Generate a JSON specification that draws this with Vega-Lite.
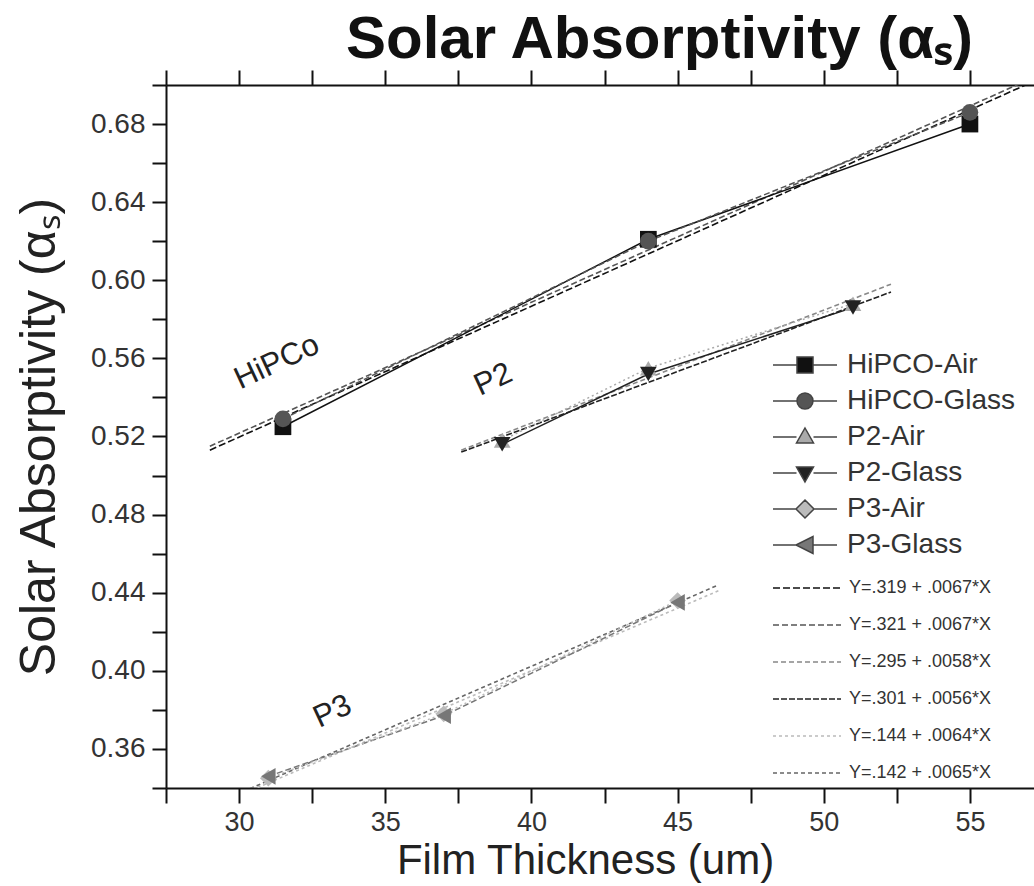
{
  "$schema": "https://vega.github.io/schema/vega-lite/v6.json",
  "width": 877,
  "height": 703,
  "autosize": {"type": "none"},
  "padding": {"left": 166, "top": 85, "right": -9, "bottom": 98},
  "background": "white",
  "title": {"text": "Solar Absorptivity (αₛ)", "fontSize": 60, "fontWeight": "bold", "font": "Liberation Sans", "color": "#111", "anchor": "middle", "dx": 55, "offset": -2},
  "config": {"view": {"stroke": null}, "axis": {"grid": false}, "font": "Liberation Sans"},
  "datasets": {
    "pts": [
      {"series": "HiPCO-Air", "x": 31.5, "y": 0.525},
      {"series": "HiPCO-Air", "x": 44, "y": 0.621},
      {"series": "HiPCO-Air", "x": 55, "y": 0.680},
      {"series": "HiPCO-Glass", "x": 31.5, "y": 0.529},
      {"series": "HiPCO-Glass", "x": 44, "y": 0.620},
      {"series": "HiPCO-Glass", "x": 55, "y": 0.686},
      {"series": "P2-Air", "x": 39, "y": 0.518},
      {"series": "P2-Air", "x": 44, "y": 0.555},
      {"series": "P2-Air", "x": 51, "y": 0.588},
      {"series": "P2-Glass", "x": 39, "y": 0.516},
      {"series": "P2-Glass", "x": 44, "y": 0.552},
      {"series": "P2-Glass", "x": 51, "y": 0.586},
      {"series": "P3-Air", "x": 31, "y": 0.345},
      {"series": "P3-Air", "x": 37, "y": 0.378},
      {"series": "P3-Air", "x": 45, "y": 0.436},
      {"series": "P3-Glass", "x": 31, "y": 0.346},
      {"series": "P3-Glass", "x": 37, "y": 0.377},
      {"series": "P3-Glass", "x": 45, "y": 0.435}
    ],
    "fits": [
      {"fit": "Y=.319 + .0067*X", "x": 29.0, "y": 0.513},
      {"fit": "Y=.319 + .0067*X", "x": 57.5, "y": 0.704},
      {"fit": "Y=.321 + .0067*X", "x": 29.0, "y": 0.515},
      {"fit": "Y=.321 + .0067*X", "x": 57.5, "y": 0.706},
      {"fit": "Y=.295 + .0058*X", "x": 37.6, "y": 0.513},
      {"fit": "Y=.295 + .0058*X", "x": 52.3, "y": 0.598},
      {"fit": "Y=.301 + .0056*X", "x": 37.6, "y": 0.512},
      {"fit": "Y=.301 + .0056*X", "x": 52.3, "y": 0.594},
      {"fit": "Y=.144 + .0064*X", "x": 29.5, "y": 0.333},
      {"fit": "Y=.144 + .0064*X", "x": 46.4, "y": 0.441},
      {"fit": "Y=.142 + .0065*X", "x": 29.5, "y": 0.334},
      {"fit": "Y=.142 + .0065*X", "x": 46.4, "y": 0.444}
    ],
    "labels": [
      {"label": "HiPCo", "x": 31.3, "y": 0.558},
      {"label": "P2", "x": 38.7, "y": 0.549},
      {"label": "P3", "x": 33.2, "y": 0.379}
    ]
  },
  "layer": [
    {
      "data": {"name": "fits"},
      "mark": {"type": "line", "clip": true, "strokeWidth": 1.6},
      "encoding": {
        "x": {"field": "x", "type": "quantitative", "scale": {"domain": [27.5, 57.5], "nice": false, "zero": false},
          "axis": {"orient": "bottom", "values": [27.5, 30, 32.5, 35, 37.5, 40, 42.5, 45, 47.5, 50, 52.5, 55, 57.5], "format": ".1f",
            "labelExpr": "datum.value % 5 === 0 ? format(datum.value, 'd') : ''",
            "tickSize": 15, "tickWidth": 2, "tickColor": "#111", "domainColor": "#111", "domainWidth": 2,
            "labelFontSize": 27, "labelColor": "#333", "labelPadding": 6, "labelOverlap": false, "labelFlush": false,
            "title": "Film Thickness (um)", "titleFontSize": 42, "titleFont": "Liberation Sans", "titleFontWeight": "normal", "titleColor": "#222", "titlePadding": 5, "titleX": 419,
            "encode": {"ticks": {"y2": {"value": {"expr": "datum.value % 5 === 0 ? 15 : 8"}}}}}},
        "y": {"field": "y", "type": "quantitative", "scale": {"domain": [0.34, 0.70], "nice": false, "zero": false},
          "axis": {"orient": "left", "values": [0.34, 0.36, 0.38, 0.40, 0.42, 0.44, 0.46, 0.48, 0.50, 0.52, 0.54, 0.56, 0.58, 0.60, 0.62, 0.64, 0.66, 0.68, 0.70],
            "labelExpr": "round(datum.value*100) % 4 === 0 ? format(datum.value, '.2f') : ''",
            "tickSize": 14, "tickWidth": 2, "tickColor": "#111", "domainColor": "#111", "domainWidth": 2,
            "labelFontSize": 28, "labelColor": "#333", "labelPadding": 7, "labelOverlap": false, "labelFlush": false,
            "title": "Solar Absorptivity (αₛ)", "titleFontSize": 50, "titleFont": "Liberation Sans", "titleFontWeight": "normal", "titleColor": "#222", "titlePadding": 26,
            "encode": {"ticks": {"x2": {"value": {"expr": "round(datum.value*100) % 4 === 0 ? -14 : -7"}}}}}},
        "stroke": {"field": "fit", "type": "nominal",
          "scale": {"domain": ["Y=.319 + .0067*X", "Y=.321 + .0067*X", "Y=.295 + .0058*X", "Y=.301 + .0056*X", "Y=.144 + .0064*X", "Y=.142 + .0065*X"],
            "range": ["#111111", "#555555", "#888888", "#222222", "#bbbbbb", "#666666"]},
          "legend": {"orient": "none", "legendX": 630, "legendY": 492, "title": null, "labelFontSize": 18, "labelColor": "#333", "labelLimit": 300, "symbolType": "M-3.4,0H3.4", "symbolSize": 400, "symbolStrokeWidth": 1.6, "labelOffset": 31, "rowPadding": 17, "padding": 0}},
        "strokeDash": {"field": "fit", "type": "nominal",
          "scale": {"domain": ["Y=.319 + .0067*X", "Y=.321 + .0067*X", "Y=.295 + .0058*X", "Y=.301 + .0056*X", "Y=.144 + .0064*X", "Y=.142 + .0065*X"],
            "range": [[7, 3], [6, 3], [5, 3], [6, 2], [3, 3], [4, 3]]},
          "legend": {"orient": "none", "legendX": 630, "legendY": 492, "title": null, "labelFontSize": 18, "labelColor": "#333", "labelLimit": 300, "symbolType": "M-3.4,0H3.4", "symbolSize": 400, "symbolStrokeWidth": 1.6, "labelOffset": 31, "rowPadding": 17, "padding": 0}}
      }
    },
    {
      "data": {"name": "pts"},
      "transform": [{"filter": {"field": "series", "oneOf": ["HiPCO-Air", "P2-Glass"]}}],
      "mark": {"type": "line", "strokeWidth": 1.5},
      "encoding": {
        "x": {"field": "x", "type": "quantitative",
          "axis": {"orient": "top", "values": [27.5, 30, 32.5, 35, 37.5, 40, 42.5, 45, 47.5, 50, 52.5, 55, 57.5], "labels": false, "title": null,
            "tickSize": 15, "tickWidth": 2, "tickColor": "#111", "domainColor": "#111", "domainWidth": 2,
            "encode": {"ticks": {"y2": {"value": {"expr": "datum.value % 5 === 0 ? 16 : 6"}}}}}},
        "y": {"field": "y", "type": "quantitative",
          "axis": {"orient": "right", "values": [0.34, 0.36, 0.38, 0.40, 0.42, 0.44, 0.46, 0.48, 0.50, 0.52, 0.54, 0.56, 0.58, 0.60, 0.62, 0.64, 0.66, 0.68, 0.70], "labels": false, "title": null,
            "tickSize": 14, "tickWidth": 2, "tickColor": "#111", "domainColor": "#111", "domainWidth": 2,
            "encode": {"ticks": {"x2": {"value": {"expr": "round(datum.value*100) % 4 === 0 ? -14 : -7"}}}}}},
        "color": {"field": "series", "type": "nominal",
          "scale": {"domain": ["HiPCO-Air", "HiPCO-Glass", "P2-Air", "P2-Glass", "P3-Air", "P3-Glass"], "range": ["#111111", "#555555", "#aaaaaa", "#222222", "#bbbbbb", "#777777"]},
          "legend": null}
      }
    },
    {
      "data": {"name": "pts"},
      "transform": [{"filter": {"field": "series", "oneOf": ["HiPCO-Glass", "P3-Glass"]}}],
      "mark": {"type": "line", "strokeWidth": 1.5, "strokeDash": [6, 3]},
      "encoding": {
        "x": {"field": "x", "type": "quantitative", "axis": null},
        "y": {"field": "y", "type": "quantitative", "axis": null},
        "color": {"field": "series", "type": "nominal",
          "scale": {"domain": ["HiPCO-Air", "HiPCO-Glass", "P2-Air", "P2-Glass", "P3-Air", "P3-Glass"], "range": ["#111111", "#555555", "#aaaaaa", "#222222", "#bbbbbb", "#777777"]},
          "legend": null}
      }
    },
    {
      "data": {"name": "pts"},
      "transform": [{"filter": {"field": "series", "oneOf": ["P2-Air", "P3-Air"]}}],
      "mark": {"type": "line", "strokeWidth": 1.5, "strokeDash": [2, 3]},
      "encoding": {
        "x": {"field": "x", "type": "quantitative", "axis": null},
        "y": {"field": "y", "type": "quantitative", "axis": null},
        "color": {"field": "series", "type": "nominal",
          "scale": {"domain": ["HiPCO-Air", "HiPCO-Glass", "P2-Air", "P2-Glass", "P3-Air", "P3-Glass"], "range": ["#111111", "#555555", "#aaaaaa", "#222222", "#bbbbbb", "#777777"]},
          "legend": null}
      }
    },
    {
      "data": {"name": "pts"},
      "mark": {"type": "point", "filled": true, "size": 280, "opacity": 1},
      "encoding": {
        "x": {"field": "x", "type": "quantitative", "axis": null},
        "y": {"field": "y", "type": "quantitative", "axis": null},
        "color": {"field": "series", "type": "nominal",
          "scale": {"domain": ["HiPCO-Air", "HiPCO-Glass", "P2-Air", "P2-Glass", "P3-Air", "P3-Glass"], "range": ["#111111", "#555555", "#aaaaaa", "#222222", "#bbbbbb", "#777777"]},
          "legend": null},
        "shape": {"field": "series", "type": "nominal",
          "scale": {"domain": ["HiPCO-Air", "HiPCO-Glass", "P2-Air", "P2-Glass", "P3-Air", "P3-Glass"], "range": ["square", "circle", "triangle-up", "triangle-down", "diamond", "triangle-left"]},
          "legend": null}
      }
    },
    {
      "data": {"name": "pts"},
      "mark": {"type": "point", "filled": true, "opacity": 0, "stroke": "#444444", "strokeWidth": 1.5},
      "encoding": {
        "x": {"field": "x", "type": "quantitative", "axis": null},
        "y": {"field": "y", "type": "quantitative", "axis": null},
        "color": {"field": "series", "type": "nominal",
          "scale": {"domain": ["HiPCO-Air", "HiPCO-Glass", "P2-Air", "P2-Glass", "P3-Air", "P3-Glass"], "range": ["#111111", "#555555", "#aaaaaa", "#222222", "#bbbbbb", "#777777"]},
          "legend": {"orient": "none", "legendX": 625, "legendY": 266, "title": null, "labelFontSize": 28, "labelColor": "#333", "labelLimit": 300, "symbolSize": 400, "symbolStrokeWidth": 1.5, "labelOffset": 28, "rowPadding": 8, "padding": 0}},
        "shape": {"field": "series", "type": "nominal",
          "scale": {"domain": ["HiPCO-Air", "HiPCO-Glass", "P2-Air", "P2-Glass", "P3-Air", "P3-Glass"],
            "range": [
              "M-3.2,0H-0.8M0.8,0H3.2M-0.8,-0.8H0.8V0.8H-0.8Z",
              "M-3.2,0H-0.8M0.8,0H3.2M0.8,0A0.8,0.8,0,1,1,-0.8,0A0.8,0.8,0,1,1,0.8,0Z",
              "M-3.2,0H-0.85M0.85,0H3.2M0,-0.9L0.85,0.6H-0.85Z",
              "M-3.2,0H-0.85M0.85,0H3.2M0,0.9L0.85,-0.6H-0.85Z",
              "M-3.2,0H-0.9M0.9,0H3.2M0,-0.9L0.9,0L0,0.9L-0.9,0Z",
              "M-3.2,0H-0.9M0.8,0H3.2M-0.9,0L0.8,-0.85V0.85Z"
            ]},
          "legend": {"orient": "none", "legendX": 625, "legendY": 266, "title": null, "labelFontSize": 28, "labelColor": "#333", "labelLimit": 300, "symbolSize": 400, "symbolStrokeWidth": 1.5, "labelOffset": 28, "rowPadding": 8, "padding": 0}}
      }
    },
    {
      "data": {"name": "labels"},
      "mark": {"type": "text", "angle": 335, "fontSize": 31, "color": "#222", "font": "Liberation Sans"},
      "encoding": {
        "x": {"field": "x", "type": "quantitative", "axis": null},
        "y": {"field": "y", "type": "quantitative", "axis": null},
        "text": {"field": "label", "type": "nominal"}
      }
    }
  ],
  "resolve": {
    "scale": {"color": "independent", "shape": "independent", "stroke": "independent", "strokeDash": "independent"},
    "axis": {"x": "independent", "y": "independent"}
  }
}
